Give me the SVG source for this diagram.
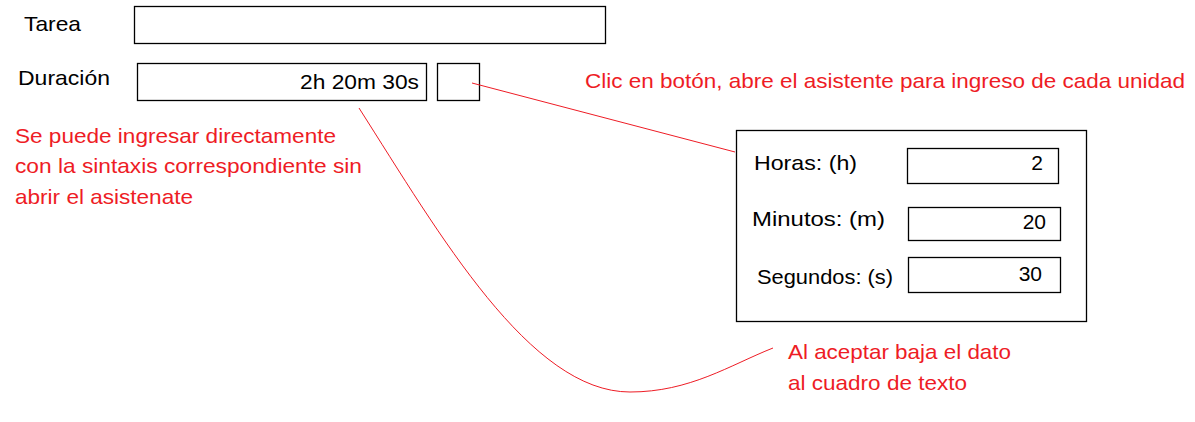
<svg xmlns="http://www.w3.org/2000/svg" width="1195" height="422" viewBox="0 0 1195 422">
<style>
.box{fill:#fff;stroke:#000;stroke-width:1.3}
.lbl{font-family:"Liberation Sans",Arial,sans-serif;font-size:21px;fill:#000}
.val{font-family:"Liberation Sans",Arial,sans-serif;font-size:21px;fill:#000;text-anchor:end}
.note{font-family:"Liberation Sans",Arial,sans-serif;font-size:21px;fill:#ee1c25}
.conn{fill:none;stroke:#ee1c25;stroke-width:1}
</style>
<rect width="1195" height="422" fill="#fff"/>
<g id="tarea">
<text class="lbl" x="24" y="31" textLength="57" lengthAdjust="spacingAndGlyphs">Tarea</text>
<rect class="box" x="134.5" y="6.5" width="471" height="37"/>
</g>
<g id="duracion">
<text class="lbl" x="18" y="85" textLength="92" lengthAdjust="spacingAndGlyphs">Duración</text>
<rect class="box" x="137.5" y="63.5" width="289" height="37"/>
<text class="val" x="419" y="89" textLength="119" lengthAdjust="spacingAndGlyphs">2h 20m 30s</text>
</g>
<g id="boton">
<rect class="box" x="437.5" y="63.5" width="42" height="37"/>
</g>
<g id="asistente">
<rect class="box" x="736.5" y="130.5" width="350" height="191"/>
<text class="lbl" x="754" y="170" textLength="103" lengthAdjust="spacingAndGlyphs">Horas: (h)</text>
<rect class="box" x="907.5" y="148.5" width="151" height="35"/>
<text class="val" x="1043" y="170">2</text>
<text class="lbl" x="752" y="226" textLength="133" lengthAdjust="spacingAndGlyphs">Minutos: (m)</text>
<rect class="box" x="908.5" y="207.5" width="152" height="33"/>
<text class="val" x="1046" y="229">20</text>
<text class="lbl" x="757" y="284" textLength="136" lengthAdjust="spacingAndGlyphs">Segundos: (s)</text>
<rect class="box" x="908.5" y="257.5" width="152" height="35"/>
<text class="val" x="1042" y="281">30</text>
</g>
<g id="nota-boton">
<text class="note" x="585" y="88" textLength="600" lengthAdjust="spacingAndGlyphs">Clic en botón, abre el asistente para ingreso de cada unidad</text>
</g>
<g id="nota-directa">
<text class="note" x="15" y="143" textLength="321" lengthAdjust="spacingAndGlyphs">Se puede ingresar directamente</text>
<text class="note" x="15" y="173" textLength="347" lengthAdjust="spacingAndGlyphs">con la sintaxis correspondiente sin</text>
<text class="note" x="15" y="204" textLength="178" lengthAdjust="spacingAndGlyphs">abrir el asistenate</text>
</g>
<g id="nota-aceptar">
<text class="note" x="788" y="359" textLength="223" lengthAdjust="spacingAndGlyphs">Al aceptar baja el dato</text>
<text class="note" x="788" y="390" textLength="179" lengthAdjust="spacingAndGlyphs">al cuadro de texto</text>
</g>
<g id="conectores">
<path class="conn" d="M472,83 L735,152"/>
<path class="conn" d="M359,108 C440,235 530,392 630,392 C690,392 730,365 773,348"/>
</g>
</svg>
